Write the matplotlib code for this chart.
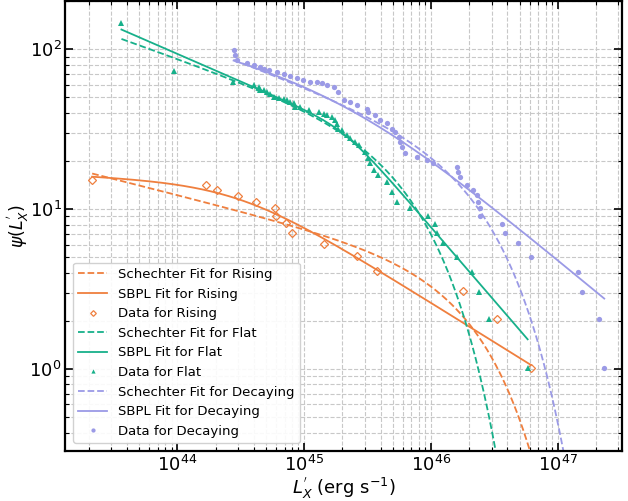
import numpy as np
import matplotlib
matplotlib.use("Agg")
import matplotlib.pyplot as plt

# ---------------- data (log10 values) ----------------
logL_rising = [43.328, 44.223, 44.313, 44.478, 44.617, 44.766, 44.780, 44.858, 44.906,
               45.152, 45.415, 45.572, 46.250, 46.517, 46.787]
logpsi_rising = [1.181, 1.150, 1.119, 1.083, 1.046, 1.004, 0.958, 0.911, 0.852,
                 0.783, 0.706, 0.611, 0.486, 0.311, 0.008]

logL_flat = [43.559, 43.976, 44.439,
             44.601, 44.640, 44.680, 44.654, 44.706, 44.732, 44.758, 44.798, 44.837,
             44.864, 44.890, 44.916, 44.929, 44.969, 45.034, 45.113, 45.152, 45.179,
             45.218, 45.244, 45.257, 45.270,
             45.297, 45.336, 45.362, 45.402, 45.428, 45.480, 45.506, 45.520, 45.546,
             45.585, 45.651, 45.691, 45.730,
             45.835, 45.979, 46.031, 46.045, 46.097, 46.202, 46.320, 46.378, 46.457, 46.761]
logpsi_flat = [2.161, 1.863, 1.796,
               1.775, 1.761, 1.748, 1.744, 1.733, 1.723, 1.702, 1.698, 1.688,
               1.681, 1.671, 1.661, 1.636, 1.639, 1.619, 1.608, 1.598, 1.588,
               1.577, 1.556, 1.531, 1.504,
               1.494, 1.463, 1.442, 1.421, 1.400, 1.358, 1.317, 1.286, 1.244,
               1.213, 1.171, 1.108, 1.046,
               1.004, 0.956, 0.906, 0.848, 0.786, 0.702, 0.608, 0.483, 0.311, 0.008]

logL_decay = [44.443, 44.457, 44.470,
              44.549, 44.601, 44.654, 44.680, 44.719, 44.785, 44.837, 44.890, 44.943,
              44.994, 45.047, 45.100, 45.139, 45.179, 45.231, 45.270,
              45.310, 45.362, 45.415, 45.494, 45.506, 45.559, 45.598, 45.651, 45.691,
              45.717, 45.743, 45.756, 45.769, 45.795,
              45.887, 45.966, 46.018, 46.202, 46.213, 46.228, 46.281, 46.333, 46.360,
              46.373, 46.386, 46.386, 46.557, 46.583, 46.687, 46.787, 47.155, 47.187,
              47.323, 47.365]
logpsi_decay = [1.998, 1.963, 1.935,
                1.911, 1.900, 1.889, 1.879, 1.869, 1.858, 1.844, 1.831, 1.817,
                1.806, 1.796, 1.796, 1.786, 1.775, 1.761, 1.733,
                1.681, 1.671, 1.650, 1.629, 1.608, 1.588, 1.556, 1.536, 1.504,
                1.483, 1.452, 1.421, 1.389, 1.348,
                1.327, 1.306, 1.286, 1.264, 1.233, 1.202, 1.150, 1.119, 1.088,
                1.046, 1.004, 0.956, 0.906, 0.848, 0.786, 0.702, 0.608, 0.483,
                0.311, 0.008]

# fit parameters (log10 A, alpha, L*) and (log10 A, Lb, a1, a2, smoothness)
schechter_rising = (0.609, 0.20, 2.5e46)
sbpl_rising = (1.16, 10**44.49, 0.04, 0.494, 3.0)
schechter_flat = (1.41, 0.28, 8.0e45)
sbpl_flat = (1.518, 10**45.313, 0.345, 0.92, 6.0)
schechter_decay = (1.333, 0.30, 2.87e46)
sbpl_decay = (1.78, 10**45.34, 0.20, 0.66, 2.0)

labels = ["Rising", "Flat", "Decaying"]
colors = ["#ef7f3e", "#17b08a", "#9b9ae6"]


def schechter(L, logA, alpha, Lstar):
    return 10**logA * (L / Lstar)**(-alpha) * np.exp(-L / Lstar)


def sbpl(L, logA, Lb, a1, a2, w):
    x = L / Lb
    return 10**logA * (x**(a1 * w) + x**(a2 * w))**(-1.0 / w)


plt.rcParams['font.family'] = ['DejaVu Sans']
fig = plt.figure(figsize=(6.28, 5.01), dpi=100)
ax = fig.add_axes([0.1035, 0.0998, 0.887, 0.898])

datasets = [
    (logL_rising, logpsi_rising, schechter_rising, sbpl_rising, dict(marker='D', mfc='none', ms=3.6, mew=0.9)),
    (logL_flat, logpsi_flat, schechter_flat, sbpl_flat, dict(marker='^', ms=3.8, mew=0)),
    (logL_decay, logpsi_decay, schechter_decay, sbpl_decay, dict(marker='o', ms=3.8, mew=0)),
]

for (lx, ly, sp, bp, mk), lab, col in zip(datasets, labels, colors):
    L = 10**np.array(lx)
    psi = 10**np.array(ly)
    grid = np.logspace(np.log10(L.min()), np.log10(L.max()), 400)
    ax.plot(grid, schechter(grid, *sp), ls='--', color=col, lw=1.3,
            label=f"Schechter Fit for {lab}")
    ax.plot(grid, sbpl(grid, *bp), ls='-', color=col, lw=1.3,
            label=f"SBPL Fit for {lab}")
    ax.plot(L, psi, ls='none', color=col, mec=col, label=f"Data for {lab}", **mk)

ax.set_xscale('log')
ax.set_yscale('log')
ax.set_xlim(1.3e43, 3.2e47)
ax.set_ylim(0.307, 200)

ax.grid(True, which='both', ls='--', color='#c8c8c8', lw=0.8)
ax.tick_params(which='both', direction='in', top=True, right=True, labelsize=13, pad=2.5)
ax.tick_params(which='major', length=6, width=1.2)
ax.tick_params(which='minor', length=3, width=0.8)
for s in ax.spines.values():
    s.set_linewidth(1.6)

ax.set_xlabel(r"$L_X^{'}$ (erg s$^{-1}$)", fontsize=13, labelpad=0)
ax.set_ylabel(r"$\psi(L_X^{'})$", fontsize=12.5, labelpad=-1)

ax.legend(loc='lower left', fontsize=9.5, markerscale=0.8, framealpha=0.9,
          borderaxespad=0.6, handlelength=2.2)

fig.savefig("out.png", dpi=100)
